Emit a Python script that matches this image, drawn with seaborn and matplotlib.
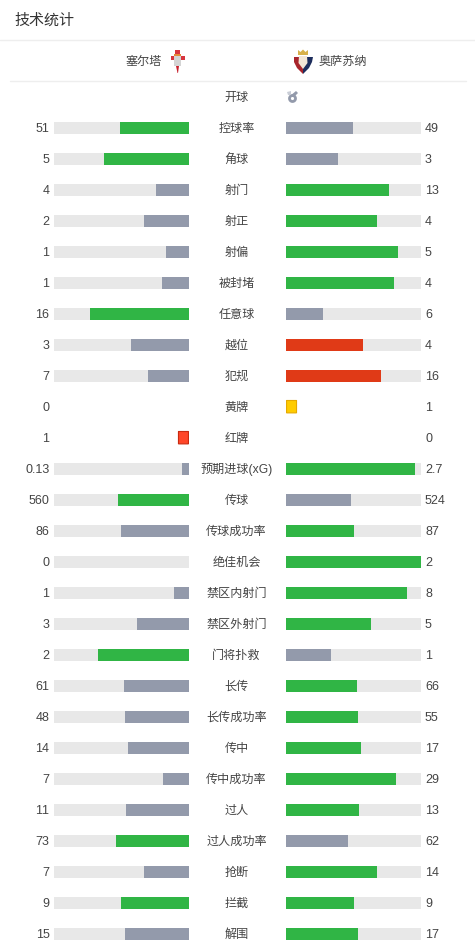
import numpy as np
import pandas as pd
import seaborn as sns
import matplotlib.pyplot as plt
from matplotlib.patches import Polygon, Rectangle, Circle, FancyBboxPatch

sns.set_theme(style="white")
plt.rcParams['font.family'] = ['Liberation Sans', 'Noto Sans CJK SC', 'DejaVu Sans']
plt.rcParams['text.kerning_factor'] = 6

title = "技术统计"
home_team = "塞尔塔"
away_team = "奥萨苏纳"

stats = ["开球", "控球率", "角球", "射门", "射正", "射偏", "被封堵", "任意球", "越位", "犯规",
         "黄牌", "红牌", "预期进球(xG)", "传球", "传球成功率", "绝佳机会", "禁区内射门",
         "禁区外射门", "门将扑救", "长传", "长传成功率", "传中", "传中成功率", "过人",
         "过人成功率", "抢断", "拦截", "解围"]
home_labels = ["", "51", "5", "4", "2", "1", "1", "16", "3", "7", "0", "1", "0.13", "560", "86",
               "0", "1", "3", "2", "61", "48", "14", "7", "11", "73", "7", "9", "15"]
away_labels = ["", "49", "3", "13", "4", "5", "4", "6", "4", "16", "1", "0", "2.7", "524", "87",
               "2", "8", "5", "1", "66", "55", "17", "29", "13", "62", "14", "9", "17"]
# bar fill, percent of the track
home_share = [np.nan, 51.1, 63, 24.4, 33.3, 17, 20, 73.3, 43, 30.4, np.nan, np.nan, 5.2, 52.6, 50.4,
              0, 11.1, 38.5, 67.4, 48.1, 47.4, 45.2, 19.3, 46.7, 54.1, 33.3, 50.4, 47.4]
away_share = [np.nan, 49.6, 38.5, 76.3, 67.4, 83, 80, 27.4, 57, 70.4, np.nan, np.nan, 95.6, 48.1, 50.4,
              100, 89.6, 63, 33.3, 52.6, 53.3, 55.6, 81.5, 54.1, 45.9, 67.4, 50.4, 53.3]
track = [np.nan, 100, 100, 100, 100, 100, 100, 100, 100, 100, np.nan, np.nan, 100, 100, 100,
         100, 100, 100, 100, 100, 100, 100, 100, 100, 100, 100, 100, 100]
# g = leader, n = other side, r = leader in a bad stat
home_kind = ["n", "g", "g", "n", "n", "n", "n", "g", "n", "n", "n", "n", "n", "g", "n",
             "n", "n", "n", "g", "n", "n", "n", "n", "n", "g", "n", "g", "n"]
away_kind = ["n", "n", "n", "g", "g", "g", "g", "n", "r", "r", "n", "n", "g", "n", "g",
             "g", "g", "g", "n", "g", "g", "g", "g", "g", "n", "g", "g", "g"]

GREEN = "#30b545"
GREY = "#939aab"
RED = "#e03a17"
TRACK = "#e8e8e8"
TEXT = "#444444"
palette = {"g": GREEN, "n": GREY, "r": RED}

df = pd.DataFrame({"stat": stats, "home": home_share, "away": away_share, "track": track,
                   "home_kind": home_kind, "away_kind": away_kind})

W, H = 475, 950
fig = plt.figure(figsize=(W / 100, H / 100), dpi=100, facecolor="white")

# rows are 31px apart, first row centred at y=97
n = len(stats)
top = 97 - 15.5
bottom = top + 31 * n


def bar_axes(x0, x1):
    ax = fig.add_axes([x0 / W, 1 - bottom / H, (x1 - x0) / W, (bottom - top) / H])
    ax.set_facecolor("none")
    return ax


def draw_side(ax, col, kind_col):
    sns.barplot(data=df, y="stat", x="track", color=TRACK, width=12 / 31, saturation=1,
                order=stats, ax=ax, orient="h", errorbar=None, edgecolor="none", linewidth=0)
    sns.barplot(data=df, y="stat", x=col, hue=kind_col, palette=palette, width=12 / 31,
                saturation=1, order=stats, dodge=False, ax=ax, orient="h", errorbar=None,
                legend=False, edgecolor="none", linewidth=0)
    ax.set_ylim(n - 0.5, -0.5)
    ax.set_xlabel("")
    ax.set_ylabel("")
    ax.set_xticks([])
    ax.set_yticks([])
    sns.despine(ax=ax, left=True, bottom=True)


ax_home = bar_axes(54, 189)
draw_side(ax_home, "home", "home_kind")
ax_home.set_xlim(100, 0)

ax_away = bar_axes(286, 421)
draw_side(ax_away, "away", "away_kind")
ax_away.set_xlim(0, 100)

# cards sit in the bar axes, on their own rows
ax_home.add_patch(FancyBboxPatch((0.4, stats.index("红牌") - 0.21), 7.4, 0.4,
                                 boxstyle="round,pad=0,rounding_size=0.02", mutation_aspect=1,
                                 fc="#ff4628", ec="#c92a10", lw=0.8))
ax_away.add_patch(FancyBboxPatch((0.4, stats.index("黄牌") - 0.21), 7.4, 0.4,
                                 boxstyle="round,pad=0,rounding_size=0.02", mutation_aspect=1,
                                 fc="#ffcc00", ec="#e5a900", lw=0.8))

# overlay in pixel coordinates for text, rules and badges
ov = fig.add_axes([0, 0, 1, 1])
ov.set_xlim(0, W)
ov.set_ylim(H, 0)
ov.axis("off")
ov.patch.set_alpha(0)

ov.text(14.5, 20.5, title, fontsize=10.8, color="#333333", va="center", ha="left")
ov.plot([0, W], [40, 40], color="#eeeeee", lw=1)
ov.plot([10, 466], [81, 81], color="#eeeeee", lw=1)

ov.text(162, 61.5, home_team, fontsize=8.7, color=TEXT, va="center", ha="right")
ov.text(319, 61.5, away_team, fontsize=8.7, color=TEXT, va="center", ha="left")

for i, (s, a, b) in enumerate(zip(stats, home_labels, away_labels)):
    y = 97.8 + 31 * i
    ov.text(236.5, y, s, fontsize=8.7, color=TEXT, va="center", ha="center")
    ov.text(49.5, y, a, fontsize=9, color=TEXT, va="center", ha="right")
    ov.text(425, y, b, fontsize=9, color=TEXT, va="center", ha="left")

# Celta badge
ov.add_patch(Polygon([(176, 66), (179, 66), (178, 73), (177.5, 73)], fc="#c8202c", ec="none"))
ov.add_patch(Rectangle((175, 50), 5, 4, fc="#d8353d", ec="none"))
ov.add_patch(Rectangle((170.5, 56), 14.5, 4, fc="#d8353d", ec="none"))
ov.add_patch(Rectangle((174, 54), 7, 12, fc="#d4d4d4", ec="none"))
ov.add_patch(Rectangle((174, 54), 7, 2, fc="#e58a3a", ec="none"))

# Osasuna badge
ov.add_patch(Polygon([(294, 57), (303, 57), (303, 74), (297, 68), (294, 62)], fc="#a8252c", ec="none"))
ov.add_patch(Polygon([(303, 57), (313, 57), (312, 62), (309, 68), (303, 74)], fc="#1d2d5c", ec="none"))
ov.add_patch(Polygon([(299, 56), (307, 56), (307.5, 63), (303, 69), (298.5, 63)], fc="#f3e6d6", ec="none"))
ov.add_patch(Polygon([(298, 55), (298, 50), (300.5, 52), (303, 49.5), (305.5, 52), (308, 50), (308, 55)],
                     fc="#d8b14a", ec="none"))

# kick-off whistle
ov.add_patch(Circle((292.5, 98.5), 3, fc="none", ec=GREY, lw=2))
ov.add_patch(Polygon([(290, 96), (296, 91), (298, 93), (294, 97)], fc=GREY, ec="none"))
ov.add_patch(Polygon([(287, 92), (291, 91), (291, 95), (288, 95)], fc="#c9cdd6", ec="none"))

fig.savefig("out.png", dpi=100)
